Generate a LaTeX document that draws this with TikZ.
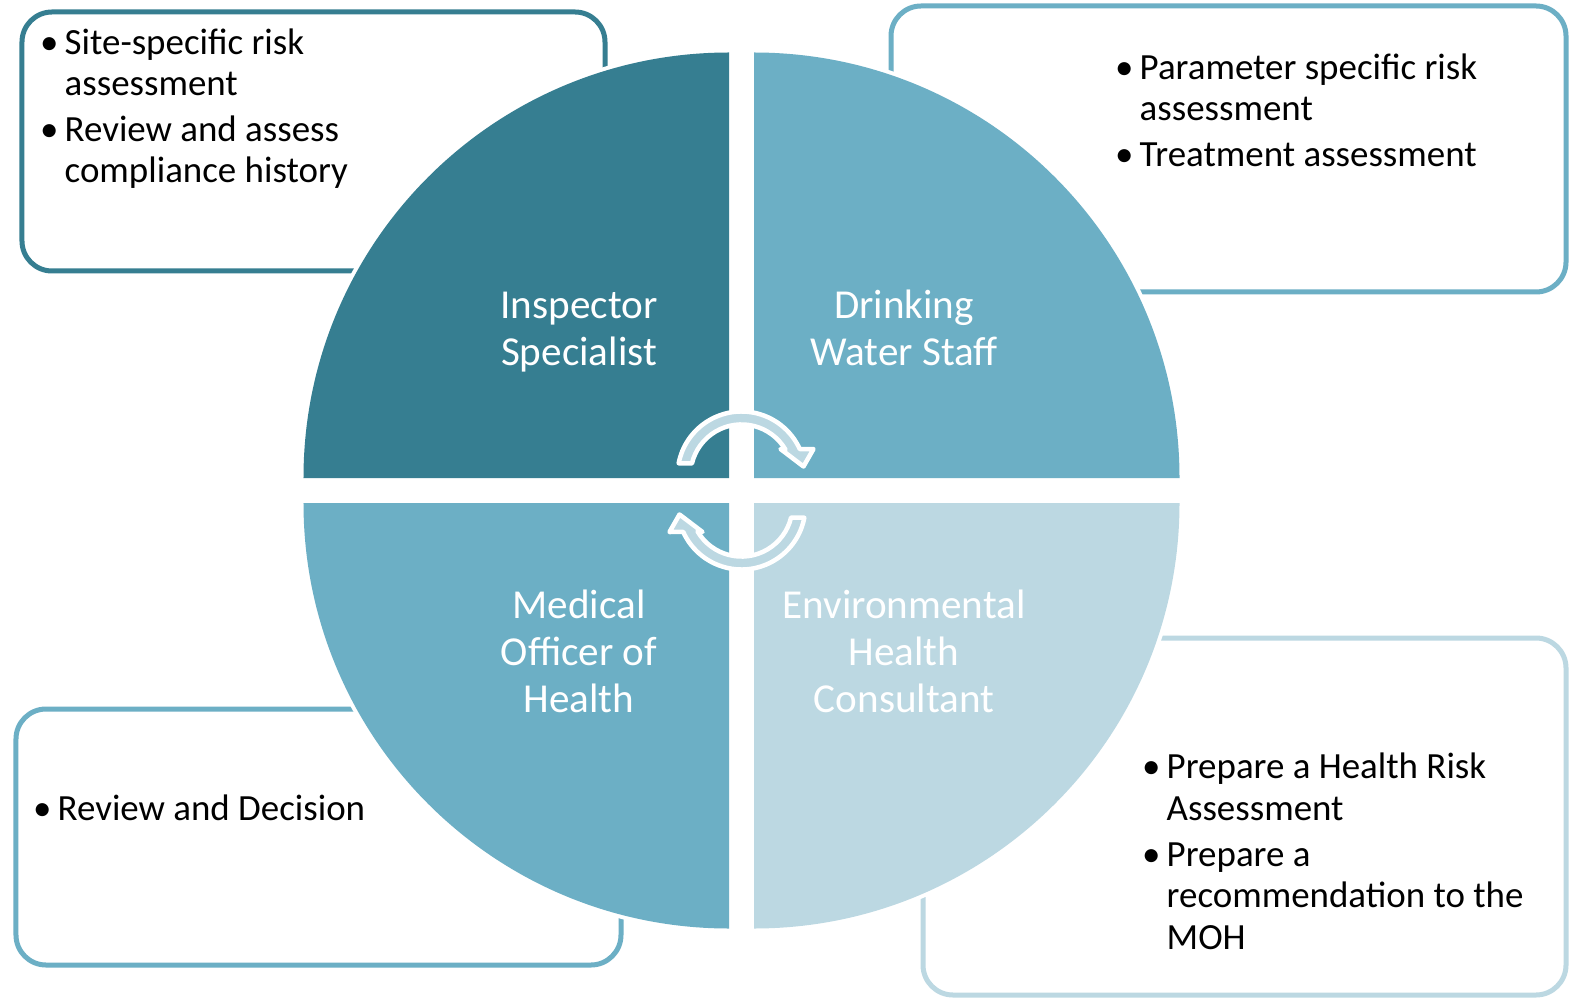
\documentclass[tikz,border=0pt]{standalone}
\usepackage{fontspec}
\setmainfont{Carlito}
\definecolor{deepteal}{RGB}{54,126,145}
\definecolor{midteal}{RGB}{108,175,197}
\definecolor{paleteal}{RGB}{188,216,226}
\tikzset{
  notebox/.style={rounded corners=0.3cm, line width=0.05cm, fill=white},
  notetext/.style={anchor=base west, align=left, inner sep=0pt,
    font=\fontsize{10.5pt}{11.7pt}\selectfont},
  rolelabel/.style={anchor=base, align=center, inner sep=0pt, text=white,
    font=\fontsize{11.7pt}{13.4pt}\selectfont},
  cyclearrow/.style={fill=paleteal, draw=white, line width=0.045cm, line join=round},
}
\newcommand{\bul}{\makebox[0.21cm][l]{\kern-0.035cm\textbullet}}
\newcommand{\cont}{\hspace*{0.21cm}}

\begin{document}
\begin{tikzpicture}[x=0.01cm,y=0.01cm]
  \useasboundingbox[fill=white] (-741.5,-506.5) rectangle (829.5,490.5);
  % task boxes behind the circle
  \draw[notebox, draw=deepteal] (-719.5,219.5) rectangle (-136.5,478.5);
  \draw[notebox, draw=midteal] (149.5,198.5) rectangle (824.5,484.5);
  \draw[notebox, draw=midteal] (-725.5,-474.5) rectangle (-120.5,-218.5);
  \draw[notebox, draw=paleteal] (181.5,-504.5) rectangle (824.5,-147.5);
  % (base of a text node = its last line)
  \node[notetext] (sitetext) at (-698.5,307.5)
    {\bul Site-specific risk\\ \cont assessment\\[0.055cm]
     \bul Review and assess\\ \cont compliance history};
  \node[notetext] (paramtext) at (376.5,323.5)
    {\bul Parameter specific risk\\ \cont assessment\\[0.055cm]
     \bul Treatment assessment};
  \node[notetext] (hratext) at (403.5,-458.5)
    {\bul Prepare a Health Risk\\ \cont Assessment\\[0.055cm]
     \bul Prepare a\\ \cont recommendation to the\\ \cont MOH};
  \node[notetext] (decisiontext) at (-705.5,-329.5)
    {\bul Review and Decision};
  % quarter pieces, with a white rim
  \foreach \ang/\col in {0/midteal,90/deepteal,180/midteal,270/paleteal}{
    \filldraw[white, line width=0.08cm, rotate=\ang]
      (12.5,12.5) -- (438,12.5) arc[start angle=0,end angle=90,radius=425.5] -- cycle;
    \fill[\col, rotate=\ang]
      (12.5,12.5) -- (438,12.5) arc[start angle=0,end angle=90,radius=425.5] -- cycle;
  }
  % circular arrows in the middle
  \foreach \r in {0,180}
    \draw[cyclearrow, rotate=\r, shift={(0,15)}]
      (169:64) arc[start angle=169,end angle=24.4,radius=64]
      -- (72,26.5) -- (62,9) -- (39,26.5) -- (43.9,26)
      arc[start angle=30.6,end angle=166.4,radius=51] -- cycle;
  \node[rolelabel] (inspector) at (-162.5,125) {Inspector\\Specialist};
  \node[rolelabel] (dwstaff) at (162.5,125) {Drinking\\Water Staff};
  \node[rolelabel] (moh) at (-162.5,-222) {Medical\\Officer of\\Health};
  \node[rolelabel] (ehc) at (162.5,-222) {Environmental\\Health\\Consultant};
\end{tikzpicture}
\end{document}
